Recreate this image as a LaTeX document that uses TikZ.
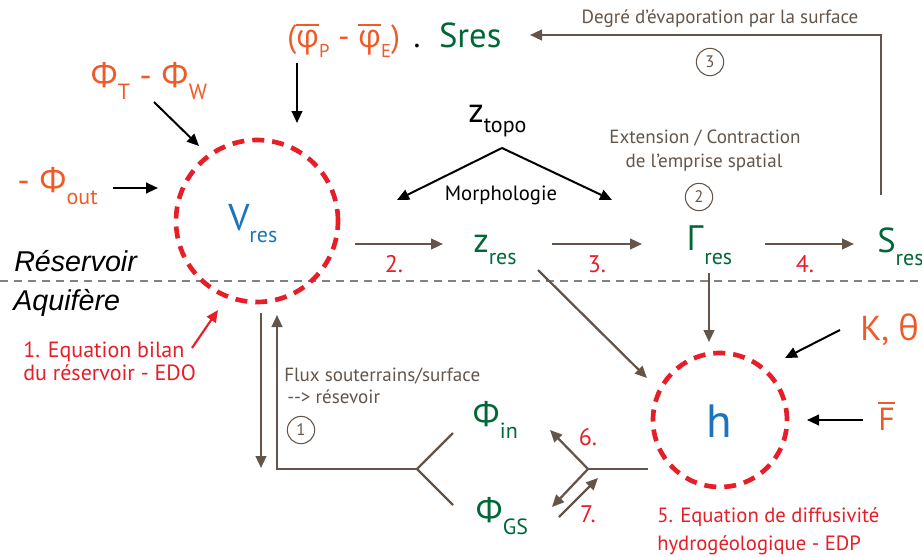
\documentclass[tikz,border=0pt]{standalone}
\usepackage{fontspec}
\setmainfont{PT Sans}
\newfontfamily\grf{Open Sans}
\newfontfamily\arialf{Liberation Sans}
\usetikzlibrary{arrows.meta}
\definecolor{cred}{RGB}{230,30,40}
\definecolor{corange}{RGB}{240,90,40}
\definecolor{cgreen}{RGB}{0,104,55}
\definecolor{cblue}{RGB}{28,117,188}
\definecolor{cbrown}{RGB}{100,85,75}
\definecolor{cgray}{RGB}{130,130,130}
\newcommand\fbig{\fontsize{26}{30}\selectfont}
\newcommand\fsub{\fontsize{16.5}{18}\selectfont}
\newcommand\lw[1]{\raisebox{-9pt}{\fsub #1}}
\newcommand\lws[1]{\raisebox{-7.5pt}{\fontsize{14}{16}\selectfont #1}}
\newcommand\ovl[1]{\leavevmode\vbox{\hrule height 1.4pt\kern 2.5pt\hbox{#1}}}
\begin{document}
\begin{tikzpicture}[x=0.75pt,y=-0.75pt,
  tip/.style={-{Triangle[length=9pt,width=8pt]}},
  blk/.style={draw=black,line width=1.5pt,tip},
  brn/.style={draw=cbrown,line width=1.7pt,tip},
  brnl/.style={draw=cbrown,line width=1.7pt},
  dcirc/.style={circle,draw=cred,line width=3.5pt,dash pattern=on 9pt off 6pt,inner sep=0pt},
  numc/.style={circle,draw=cbrown,line width=0.8pt,minimum size=20.5pt,inner sep=0pt,text=cbrown,font=\fontsize{12.5}{14}\selectfont},
  txt/.style={inner sep=0pt,anchor=base west},
  txtc/.style={inner sep=0pt,anchor=base},
  small/.style={font=\fontsize{14.3}{16}\selectfont,text=cbrown},
  redl/.style={font=\fontsize{15.5}{18}\selectfont,text=cred},
  rnum/.style={font=\fontsize{18}{20}\selectfont,text=cred}
]
\useasboundingbox (0,0) rectangle (922,557);

% separator
\draw[cgray,line width=1.1pt,dash pattern=on 6pt off 4.5pt] (0,281) -- (922,281);
\node[txt,font=\arialf\itshape\fontsize{21.5}{24}\selectfont] (resv) at (14,271) {Réservoir};
\node[txt,font=\arialf\itshape\fontsize{21.5}{24}\selectfont] (aqui) at (13,310) {Aquifère};

% circles
\node[dcirc,minimum size=121.5pt] (Vc) at (257,221) {};
\node[dcirc,minimum size=100.5pt] (hc) at (720,420) {};

% symbols
\node[txt,text=cblue] (V) at (228,230) {{\fontsize{28}{30}\selectfont V}\lw{res}};
\node[txt,text=cblue] (h) at (706,437) {\fontsize{35}{38}\selectfont h};
\node[txt,text=corange] (phitw) at (90,87) {\fbig{\grf Φ}\lw{T} - {\grf Φ}\lw{W}};
\node[txt,text=corange] (phiout) at (17,192) {\fbig - {\grf Φ}\lw{out}};
\node[txt] (top) at (287,47) {\fontsize{24}{26}\selectfont{\color{corange}(\ovl{\grf φ}\lws{P} - \ovl{\grf φ}\lws{E})}\hspace{10pt}.\hspace{14pt}{\color{cgreen}\fontsize{26}{28}\selectfont Sres}};
\node[txt] (ztopo) at (468,122) {\fbig z\raisebox{-7.5pt}{\fsub topo}};
\node[txtc,font=\fontsize{15.5}{17}\selectfont] (morph) at (501,200) {Morphologie};
\node[txt,text=cgreen] (zres) at (473,252) {\fbig z\lw{res}};
\node[txt,text=cgreen] (gres) at (686,250) {\fbig{\grf Γ}\raisebox{-11pt}{\fsub res}};
\node[txt,text=cgreen] (sres) at (877,252) {\fbig S\raisebox{-10pt}{\fsub res}};
\node[txt,text=cgreen] (phiin) at (472,426) {\fbig{\grf Φ}\lw{in}};
\node[txt,text=cgreen] (phigs) at (475,522) {\fbig{\grf Φ}\lw{GS}};
\node[txt,text=corange] (kt) at (860,340) {\fbig K, {\grf θ}};
\node[txt,text=corange] (fb) at (878,430) {\fontsize{24}{26}\selectfont\ovl{F}};

% brown texts
\node[txtc,small] (deg) at (720,23) {Degré d’évaporation par la surface};
\node[numc] (n3) at (710,62) {3};
\node[txtc,small] (ext1) at (705,143) {Extension / Contraction};
\node[txtc,small] (ext2) at (704,167) {de l’emprise spatial};
\node[numc] (n2) at (699,197) {2};
\node[txt,small] (flux1) at (284,381) {Flux souterrains/surface};
\node[txt,small] (flux2) at (287,403) {-{}-> résevoir};
\node[numc] (n1) at (301,430) {1};

% red labels
\node[txtc,rnum] (l2) at (394,272) {2.};
\node[txtc,rnum] (l3) at (597,272) {3.};
\node[txtc,rnum] (l4) at (805,272) {4.};
\node[txtc,rnum] (l6) at (588,445) {6.};
\node[txtc,rnum] (l7) at (588,522) {7.};
\node[txt,redl,font=\fontsize{16.5}{18}\selectfont] (eq1a) at (23,357) {1. Equation bilan};
\node[txt,redl,font=\fontsize{16.5}{18}\selectfont] (eq1b) at (23,380) {du réservoir - EDO};
\node[txt,redl] (eq5a) at (657,522) {5. Equation de diffusivité};
\node[txt,redl] (eq5b) at (657,550) {hydrogéologique - EDP};

% coordinates
\coordinate (a1s) at (154,102); \coordinate (a1e) at (199,146);
\coordinate (a2s) at (113,188); \coordinate (a2e) at (158,188);
\coordinate (a3s) at (297,63);  \coordinate (a3e) at (297,123);
\coordinate (apex) at (502,148); \coordinate (tl) at (397,200); \coordinate (tr) at (612,200);
\coordinate (a4s) at (840,330); \coordinate (a4e) at (785,358);
\coordinate (a5s) at (863,420); \coordinate (a5e) at (807,420);
\coordinate (r1s) at (192,348); \coordinate (r1e) at (218,310);
\coordinate (t1) at (881,195); \coordinate (t2) at (881,35); \coordinate (t3) at (530,35);
\coordinate (b2s) at (355,244); \coordinate (b2e) at (443,244);
\coordinate (b3s) at (552,244); \coordinate (b3e) at (642,244);
\coordinate (b4s) at (765,244); \coordinate (b4e) at (854,244);
\coordinate (gvs) at (709,273); \coordinate (gve) at (709,342);
\coordinate (zds) at (538,270); \coordinate (zde) at (647,378);
\coordinate (ld1) at (261,313); \coordinate (ld2) at (261,468);
\coordinate (lu1) at (277,469); \coordinate (lu2) at (277,315);
\coordinate (lb) at (417,469); \coordinate (lbu) at (453,433); \coordinate (lbd) at (453,505);
\coordinate (rh) at (648,469); \coordinate (rb) at (588,469);
\coordinate (rbu) at (550,430); \coordinate (rbd) at (552,507);
\coordinate (p7s) at (559,517); \coordinate (p7e) at (598,478);

% black arrows
\draw[blk] (a1s) -- (a1e);
\draw[blk] (a2s) -- (a2e);
\draw[blk] (a3s) -- (a3e);
\draw[blk] (apex) -- (tl);
\draw[blk] (apex) -- (tr);
\draw[blk] (a4s) -- (a4e);
\draw[blk] (a5s) -- (a5e);
% red arrow
\draw[draw=cred,line width=1.6pt,tip] (r1s) -- (r1e);
% brown
\draw[brn] (t1) -- (t2) -- (t3);
\draw[brn] (b2s) -- (b2e);
\draw[brn] (b3s) -- (b3e);
\draw[brn] (b4s) -- (b4e);
\draw[brn] (gvs) -- (gve);
\draw[brn] (zds) -- (zde);
\draw[brn] (ld1) -- (ld2);
\draw[brnl] (lbu) -- (lb) -- (lbd);
\draw[brn] (lb) -- (lu1) -- (lu2);
\draw[brnl] (rh) -- (rb);
\draw[brn] (rb) -- (rbu);
\draw[brn] (rb) -- (rbd);
\draw[brn] (p7s) -- (p7e);
\end{tikzpicture}
\end{document}
